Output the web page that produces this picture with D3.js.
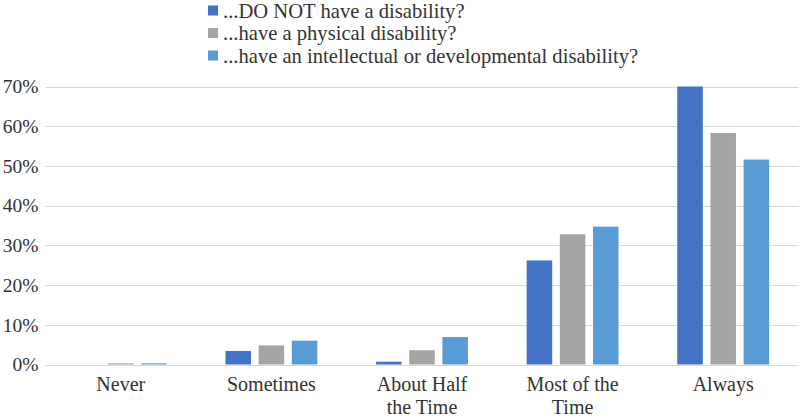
<!DOCTYPE html>
<html>
<head>
<meta charset="utf-8">
<script src="https://cdn.jsdelivr.net/npm/d3@7"></script>
<style>
  html, body { margin: 0; padding: 0; background: #fff; }
  svg { display: block; }
  text { fill: #333; }
</style>
</head>
<body>
<svg id="chart" width="800" height="418"></svg>
<script>
const categories = [["Never"], ["Sometimes"], ["About Half", "the Time"], ["Most of the", "Time"], ["Always"]];
const seriesNames = ["...DO NOT have a disability?", "...have a physical disability?", "...have an intellectual or developmental disability?"];
const seriesColors = ["#4472C4", "#A5A5A5", "#5B9BD5"];
const noDisability = [0.0, 3.4, 0.7, 26.2, 70.0];
const physical = [0.3, 4.8, 3.6, 32.8, 58.3];
const intellectual = [0.3, 6.0, 6.9, 34.7, 51.6];
const yTicks = [0, 10, 20, 30, 40, 50, 60, 70];

const FONT = "'Liberation Serif', 'Times New Roman', serif";
const seriesValues = [noDisability, physical, intellectual];
const svg = d3.select("#chart");
const plotLeft = 45.5, plotRight = 798.5, plotTop = 86.5, plotBottom = 364.5;

const catKeys = categories.map((c, i) => i);
const x0 = d3.scaleBand().domain(catKeys).range([plotLeft, plotRight]).paddingInner(0.39).paddingOuter(0.195);
const x1 = d3.scaleBand().domain([0, 1, 2]).range([0, x0.bandwidth()]).paddingInner(0.23).paddingOuter(0);
const y = d3.scaleLinear().domain([0, 70]).range([plotBottom, plotTop]);

// gridlines
svg.append("g").selectAll("line").data(yTicks).join("line")
  .attr("x1", plotLeft).attr("x2", plotRight)
  .attr("y1", d => Math.round(y(d)) + 0.5).attr("y2", d => Math.round(y(d)) + 0.5)
  .attr("stroke", "#d9d9d9").attr("stroke-width", 1);

// y axis labels
const yAxis = d3.axisLeft(y).tickValues(yTicks).tickFormat(d => d + "%").tickSize(0).tickPadding(7);
const yg = svg.append("g").attr("transform", `translate(${plotLeft},0)`).call(yAxis);
yg.attr("font-family", FONT).attr("font-size", 19.5);
yg.select(".domain").remove();
yg.selectAll("text").attr("fill", "#333");

// bars
const groups = svg.append("g").selectAll("g").data(catKeys).join("g")
  .attr("transform", d => `translate(${x0(d)},0)`);
groups.selectAll("rect").data(ci => seriesValues.map((vals, si) => ({ si, v: vals[ci] }))).join("rect")
  .attr("x", d => x1(d.si))
  .attr("width", x1.bandwidth())
  .attr("y", d => y(d.v))
  .attr("height", d => plotBottom - y(d.v))
  .attr("fill", d => seriesColors[d.si]);

// x axis labels
const xl = svg.append("g").attr("font-family", FONT).attr("font-size", 20);
catKeys.forEach(i => {
  const cx = x0(i) + x0.bandwidth() / 2;
  const t = xl.append("text").attr("text-anchor", "middle");
  categories[i].forEach((line, li) => {
    t.append("tspan").attr("x", cx).attr("y", 391 + li * 23).text(line);
  });
});

// legend
const lg = svg.append("g").attr("font-family", FONT).attr("font-size", 20.6);
seriesNames.forEach((name, i) => {
  const yy = 17.5 + i * 22.5;
  lg.append("rect").attr("x", 208).attr("y", yy - 12).attr("width", 10).attr("height", 10).attr("fill", seriesColors[i]);
  lg.append("text").attr("x", 223).attr("y", yy).text(name);
});
</script>
</body>
</html>
